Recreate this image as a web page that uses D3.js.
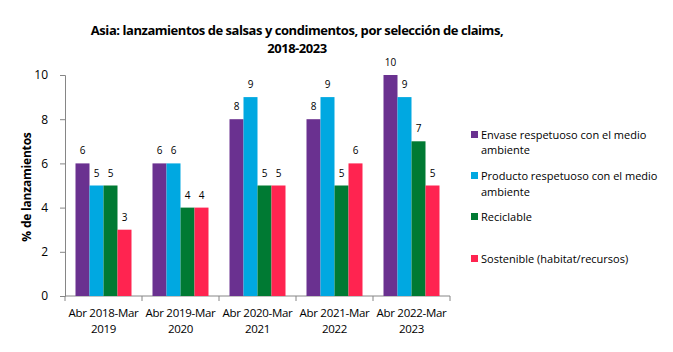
<!DOCTYPE html>
<meta charset="utf-8">
<style>
body { margin: 0; background: #fff; }
svg text { font-family: "Open Sans", "Liberation Sans", sans-serif; fill: #000; }
</style>
<script src="https://d3js.org/d3.v7.min.js"></script>
<div id="chart"></div>
<script>
// data
const categories = ["Abr 2018-Mar 2019", "Abr 2019-Mar 2020", "Abr 2020-Mar 2021", "Abr 2021-Mar 2022", "Abr 2022-Mar 2023"];
const seriesNames = ["Envase respetuoso con el medio ambiente", "Producto respetuoso con el medio ambiente", "Reciclable", "Sostenible (habitat/recursos)"];
const envase    = [6, 6, 8, 8, 10];
const producto  = [5, 6, 9, 9, 9];
const reciclable = [5, 4, 5, 5, 7];
const sostenible = [3, 4, 5, 6, 5];
const yTicks = [0, 2, 4, 6, 8, 10];
const colors = ["#6a3190", "#00a8e1", "#007a33", "#ff2450"];

const values = [envase, producto, reciclable, sostenible];

const W = 673, H = 352;
const margin = {top: 75, left: 65, bottom: 56, right: 223};
const width = W - margin.left - margin.right,
      height = H - margin.top - margin.bottom;

const svg = d3.select("#chart").append("svg")
  .attr("width", W).attr("height", H);

// title, two lines
["Asia: lanzamientos de salsas y condimentos, por selección de claims,", "2018-2023"]
  .forEach((line, i) => {
    svg.append("text")
      .attr("x", 297).attr("y", 35 + i * 18)
      .attr("text-anchor", "middle")
      .style("font-weight", "bold").style("font-size", "13px")
      .style("letter-spacing", "-0.45px")
      .text(line);
  });

const g = svg.append("g").attr("transform", `translate(${margin.left},${margin.top})`);

const x = d3.scaleBand().domain(categories).range([0, width]).padding(0);
const xs = d3.scaleBand().domain(d3.range(4)).range([0, x.bandwidth()])
  .paddingInner(0).paddingOuter(0.75);
const y = d3.scaleLinear().domain([0, 10]).range([height, 0]);

// y axis
const yAxis = g.append("g")
  .call(d3.axisLeft(y).tickValues(yTicks).tickSize(5).tickPadding(12));
yAxis.selectAll("text").style("font-size", "12px");
yAxis.selectAll("path, line").attr("stroke", "#868686");

// x axis with ticks at category boundaries
const xAxis = g.append("g").attr("transform", `translate(0,${height})`);
xAxis.append("line").attr("x1", 0).attr("x2", width).attr("stroke", "#868686");
xAxis.selectAll("line.tk")
  .data(d3.range(categories.length + 1))
  .join("line").attr("class", "tk")
  .attr("x1", i => i * x.step()).attr("x2", i => i * x.step())
  .attr("y1", 0).attr("y2", 5).attr("stroke", "#868686");
xAxis.selectAll("text.cat")
  .data(categories)
  .join("text").attr("class", "cat")
  .attr("text-anchor", "middle")
  .style("font-size", "11.5px")
  .style("letter-spacing", "-0.3px")
  .attr("y", 21)
  .each(function(d) {
    const parts = d.split(" ");
    const t = d3.select(this);
    const cx = x(d) + x.bandwidth() / 2;
    t.append("tspan").attr("x", cx).text(parts[0] + " " + parts[1]);
    t.append("tspan").attr("x", cx).attr("dy", 16).text(parts[2]);
  });

// bars
const groups = g.selectAll("g.series")
  .data(values)
  .join("g").attr("class", "series")
  .attr("fill", (d, i) => colors[i]);

groups.each(function(vals, si) {
  const sel = d3.select(this);
  sel.selectAll("rect")
    .data(vals)
    .join("rect")
    .attr("x", (v, ci) => x(categories[ci]) + xs(si))
    .attr("width", xs.bandwidth())
    .attr("y", v => y(v))
    .attr("height", v => height - y(v));
  sel.selectAll("text")
    .data(vals)
    .join("text")
    .attr("x", (v, ci) => x(categories[ci]) + xs(si) + xs.bandwidth() / 2)
    .attr("y", v => y(v) - 9)
    .attr("text-anchor", "middle")
    .style("font-size", "10px")
    .text(v => v);
});

// y axis title
svg.append("text")
  .attr("transform", "translate(31,187) rotate(-90)")
  .attr("text-anchor", "middle")
  .style("font-size", "12px").style("font-weight", "bold")
  .style("letter-spacing", "-0.2px")
  .text("% de lanzamientos");

// legend
const legendY = [[135, 150], [176, 192], [217], [259]];
const legendLines = [["Envase respetuoso con el medio", "ambiente"], ["Producto respetuoso con el medio", "ambiente"], ["Reciclable"], ["Sostenible (habitat/recursos)"]];
const legend = svg.append("g");
seriesNames.forEach((name, i) => {
  legend.append("rect")
    .attr("x", 471).attr("y", legendY[i][0] - 4)
    .attr("width", 7).attr("height", 7)
    .attr("fill", colors[i]);
  legendLines[i].forEach((line, j) => {
    legend.append("text")
      .attr("x", 481).attr("y", legendY[i][j] + 4)
      .style("font-size", "11px")
      .text(line);
  });
});
</script>
